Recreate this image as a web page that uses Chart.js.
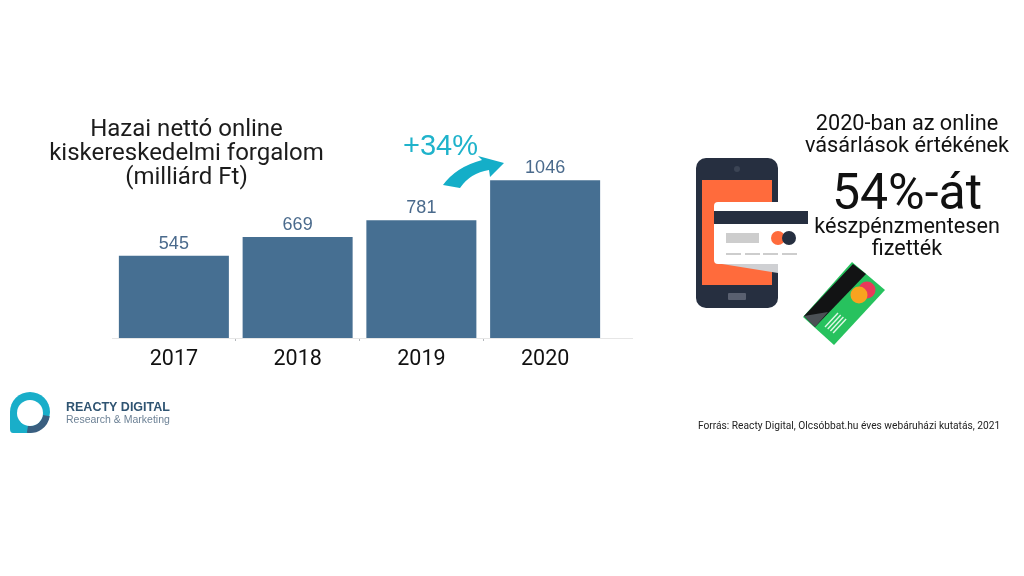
<!DOCTYPE html>
<html>
<head>
<meta charset="utf-8">
<title>Hazai nettó online kiskereskedelmi forgalom</title>
<script src="https://cdn.jsdelivr.net/npm/chart.js@4"></script>
<style>
  html, body { margin: 0; padding: 0; background: #fff; }
  #wrap { width: 1024px; height: 576px; }
</style>
</head>
<body>
<div id="wrap"><canvas id="chart"></canvas></div>
<script>
// ===== Data =====
const years = ["2017", "2018", "2019", "2020"];
const turnover = [545, 669, 781, 1046];
const titleLines = ["Hazai nettó online", "kiskereskedelmi forgalom", "(milliárd Ft)"];
const growthLabel = "+34%";
const sideLines = ["2020-ban az online", "vásárlások értékének"];
const sideBig = "54%-át";
const sideLines2 = ["készpénzmentesen", "fizették"];
const brandName = "REACTY DIGITAL";
const brandSub = "Research & Marketing";
const sourceText = "Forrás: Reacty Digital, Olcsóbbat.hu éves webáruházi kutatás, 2021";

const ROBOTO = "Roboto, sans-serif";
const ARIAL = "'Liberation Sans', sans-serif";

function text(ctx, str, x, y, font, color, align) {
  ctx.font = font;
  ctx.fillStyle = color;
  ctx.textAlign = align || "center";
  ctx.textBaseline = "alphabetic";
  ctx.fillText(str, x, y);
}

function poly(ctx, pts, color) {
  ctx.fillStyle = color;
  ctx.beginPath();
  pts.forEach((p, i) => i ? ctx.lineTo(p[0], p[1]) : ctx.moveTo(p[0], p[1]));
  ctx.closePath();
  ctx.fill();
}

function rrect(ctx, x, y, w, h, r, color) {
  ctx.fillStyle = color;
  ctx.beginPath();
  ctx.roundRect(x, y, w, h, r);
  ctx.fill();
}

function circle(ctx, x, y, r, color) {
  ctx.fillStyle = color;
  ctx.beginPath();
  ctx.arc(x, y, r, 0, Math.PI * 2);
  ctx.fill();
}

// ===== Illustrations =====
function drawPhone(ctx) {
  rrect(ctx, 696, 158, 82, 150, 10, "#262f40");
  ctx.fillStyle = "#ff6b3c";
  ctx.fillRect(702, 180, 70, 105);
  circle(ctx, 737, 169, 3, "#3b4454");
  rrect(ctx, 728, 293, 18, 7, 1, "#596070");
  // card sliding out of the phone
  rrect(ctx, 714, 202, 94, 62, [4, 0, 0, 4], "#ffffff");
  poly(ctx, [[722, 264], [778, 264], [778, 273]], "#cfd0d3");
  ctx.fillStyle = "#262f40";
  ctx.fillRect(714, 211, 94, 13);
  ctx.fillStyle = "#cdcdcd";
  ctx.fillRect(726, 233, 33, 10);
  circle(ctx, 778, 238, 7, "#ff6b3c");
  circle(ctx, 789, 238, 7, "#262f40");
  ctx.fillStyle = "#cdcdcd";
  [726, 745, 763, 782].forEach(x => ctx.fillRect(x, 253, 15, 2));
}

function drawGreenCard(ctx) {
  poly(ctx, [[852, 262], [885, 290], [834, 345], [803, 317]], "#27c25e");
  poly(ctx, [[853, 264], [866, 274], [815, 327], [804, 316]], "#121314");
  poly(ctx, [[804, 316], [815, 327], [828, 312]], "#4b5055");
  circle(ctx, 867, 290, 8.5, "#e9395a");
  circle(ctx, 859, 295, 8.5, "#f9a31f");
  ctx.strokeStyle = "#dff8e6";
  ctx.lineWidth = 1.4;
  for (let i = 0; i < 4; i++) {
    ctx.beginPath();
    ctx.moveTo(825 + i * 2.7, 327 + i * 2);
    ctx.lineTo(838 + i * 2.7, 313 + i * 2);
    ctx.stroke();
  }
}

function drawArrow(ctx) {
  ctx.fillStyle = "#14aec8";
  ctx.beginPath();
  ctx.moveTo(443, 185);
  ctx.quadraticCurveTo(456, 167, 482, 160);
  ctx.lineTo(478, 156);
  ctx.lineTo(504, 163);
  ctx.lineTo(490, 177);
  ctx.lineTo(489, 170);
  ctx.quadraticCurveTo(470, 173, 460, 188);
  ctx.closePath();
  ctx.fill();
}

function drawLogo(ctx) {
  ctx.fillStyle = "#19aec9";
  ctx.beginPath();
  ctx.moveTo(10, 429);
  ctx.lineTo(10, 412);
  ctx.arc(30, 412, 20, Math.PI, Math.PI * 0.35, false);
  ctx.lineTo(30, 433);
  ctx.lineTo(13, 433);
  ctx.quadraticCurveTo(10, 433, 10, 429);
  ctx.closePath();
  ctx.fill();
  ctx.strokeStyle = "#3a5f80";
  ctx.lineWidth = 7;
  ctx.beginPath();
  ctx.arc(30, 413, 16.5, Math.PI * 0.05, Math.PI * 0.55);
  ctx.stroke();
  circle(ctx, 30, 413, 13, "#ffffff");
}

// ===== Extras drawn on top of the chart =====
const extras = {
  id: "extras",
  afterDraw(chart) {
    const ctx = chart.ctx;
    const x = chart.scales.x;
    ctx.save();

    // axis line keeps running past the last bar
    ctx.strokeStyle = "#e6e6e6";
    ctx.lineWidth = 1;
    ctx.beginPath();
    ctx.moveTo(x.right, x.top + 0.5);
    ctx.lineTo(633, x.top + 0.5);
    ctx.stroke();

    // value labels above the bars
    chart.getDatasetMeta(0).data.forEach((bar, i) => {
      text(ctx, String(turnover[i]), bar.x, bar.y - 7, "18px " + ARIAL, "#4a6a8c");
    });

    titleLines.forEach((l, i) => text(ctx, l, 186.5, 136 + i * 24, "24px " + ROBOTO, "#1c1c1c"));
    text(ctx, growthLabel, 403, 155, "29px " + ARIAL, "#1fb3cb", "left");
    drawArrow(ctx);

    drawPhone(ctx);
    drawGreenCard(ctx);
    sideLines.forEach((l, i) => text(ctx, l, 907, 130 + i * 22, "21.7px " + ROBOTO, "#111111"));
    text(ctx, sideBig, 907, 209, "50px " + ROBOTO, "#111111");
    sideLines2.forEach((l, i) => text(ctx, l, 907, 233 + i * 22, "21.6px " + ROBOTO, "#111111"));

    drawLogo(ctx);
    text(ctx, brandName, 66, 410.5, "bold 12.5px " + ARIAL, "#2f5472", "left");
    text(ctx, brandSub, 66, 423, "10.5px " + ARIAL, "#6d8296", "left");
    text(ctx, sourceText, 698, 429, "10.2px " + ROBOTO, "#222222", "left");
    ctx.restore();
  }
};

// ===== Chart =====
new Chart(document.getElementById("chart"), {
  type: "bar",
  data: {
    labels: years,
    datasets: [{
      label: "Forgalom",
      data: turnover,
      backgroundColor: "#466f92",
      categoryPercentage: 1,
      barPercentage: 0.889
    }]
  },
  options: {
    responsive: true,
    maintainAspectRatio: false,
    animation: false,
    layout: { padding: { left: 112, right: 417, top: 157, bottom: 202 } },
    plugins: { legend: { display: false }, title: { display: false }, tooltip: { enabled: false } },
    scales: {
      x: {
        afterFit(scale) { scale.height = 36; },
        border: { color: "#e6e6e6" },
        grid: {
          display: true,
          drawOnChartArea: false,
          drawTicks: true,
          tickLength: 3,
          offset: true,
          tickColor: c => (c.index > 0 && c.index < years.length) ? "#b4b8bc" : "rgba(0,0,0,0)"
        },
        ticks: { color: "#111111", font: { family: "Roboto", size: 21.5 }, padding: 6, maxRotation: 0 }
      },
      y: { display: false, min: 0, max: 1200 }
    }
  },
  plugins: [extras]
});
</script>
</body>
</html>
